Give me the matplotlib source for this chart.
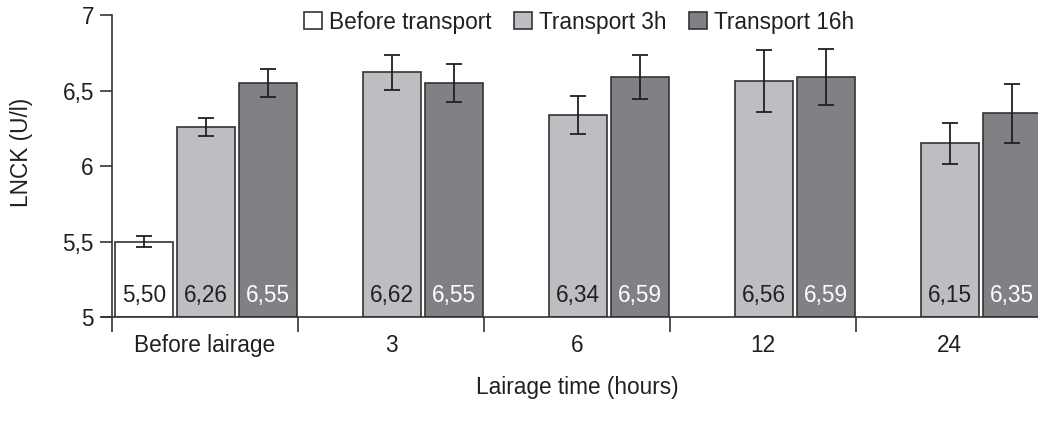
import numpy as np
import matplotlib.pyplot as plt

plt.rcParams['font.family'] = ['Liberation Sans', 'DejaVu Sans']

# Data
groups = ['Before lairage', '3', '6', '12', '24']
series = ['Before transport', 'Transport 3h', 'Transport 16h']
before = [5.50, np.nan, np.nan, np.nan, np.nan]
before_err = [0.035, 0, 0, 0, 0]
t3 = [6.26, 6.62, 6.34, 6.56, 6.15]
t3_err = [0.06, 0.115, 0.125, 0.205, 0.137]
t16 = [6.55, 6.55, 6.59, 6.59, 6.35]
t16_err = [0.09, 0.125, 0.145, 0.185, 0.195]

colors = ['#ffffff', '#bdbec2', '#808185']
text_colors = ['#231f20', '#231f20', '#ffffff']
edge = '#333333'

fig = plt.figure(figsize=(10.38, 4.23), dpi=100)
ax = fig.add_axes([112 / 1038, 1 - 317 / 423, 930 / 1038, 302 / 423])

x = np.arange(len(groups))
width = 0.312
fs = 16.3

for s, (vals, errs) in enumerate([(before, before_err), (t3, t3_err), (t16, t16_err)]):
    pos = x - 1 / 3 + s / 3 + 0.005
    vals = np.array(vals, dtype=float)
    ok = ~np.isnan(vals)
    ax.bar(pos[ok], vals[ok] - 5, bottom=5, width=width, color=colors[s],
           edgecolor=edge, linewidth=1.2, label=series[s], zorder=2)
    ax.errorbar(pos[ok], vals[ok], yerr=np.array(errs)[ok], fmt='none',
                ecolor='#231f20', elinewidth=1.3, capsize=6, capthick=1.3, zorder=3)
    for p, v in zip(pos[ok], vals[ok]):
        ax.text(p, 5.065, f'{v:.2f}'.replace('.', ','), ha='center', va='bottom',
                fontsize=fs, color=text_colors[s], zorder=4)

ax.set_xlim(-0.5, 4.5)
ax.set_ylim(5, 7)
ax.set_yticks([5, 5.5, 6, 6.5, 7])
ax.set_yticklabels(['5', '5,5', '6', '6,5', '7'])
ax.set_xticks(np.arange(-0.5, 5, 1))
ax.set_xticklabels([])
ax.set_xticks(x, minor=True)
ax.set_xticklabels(groups, minor=True)
ax.tick_params(axis='x', which='major', direction='out', length=11, width=1.2, color=edge)
ax.tick_params(axis='x', which='minor', length=0, pad=12, labelsize=fs, labelcolor='#231f20')
ax.tick_params(axis='y', direction='out', length=9, width=1.2, color=edge,
               labelsize=fs, labelcolor='#231f20', pad=4)

for side in ['top', 'right']:
    ax.spines[side].set_visible(False)
for side in ['left', 'bottom']:
    ax.spines[side].set_color(edge)
    ax.spines[side].set_linewidth(1.2)
ax.spines['bottom'].set_bounds(-0.555, 4.5)
ax.spines['bottom'].set_zorder(5)

ax.set_ylabel('LNCK (U/l)', fontsize=fs, color='#231f20')
ax.yaxis.set_label_coords(-0.085, 0.546)
ax.set_xlabel('Lairage time (hours)', fontsize=fs, color='#231f20', labelpad=14)

fig.legend(loc='center', bbox_to_anchor=(579 / 1038, 1 - 22 / 423), ncol=3,
           frameon=False, fontsize=fs, handlelength=0.8, handleheight=0.8,
           handletextpad=0.3, columnspacing=1.0, labelcolor='#231f20')

fig.savefig('out.png', dpi=100)
